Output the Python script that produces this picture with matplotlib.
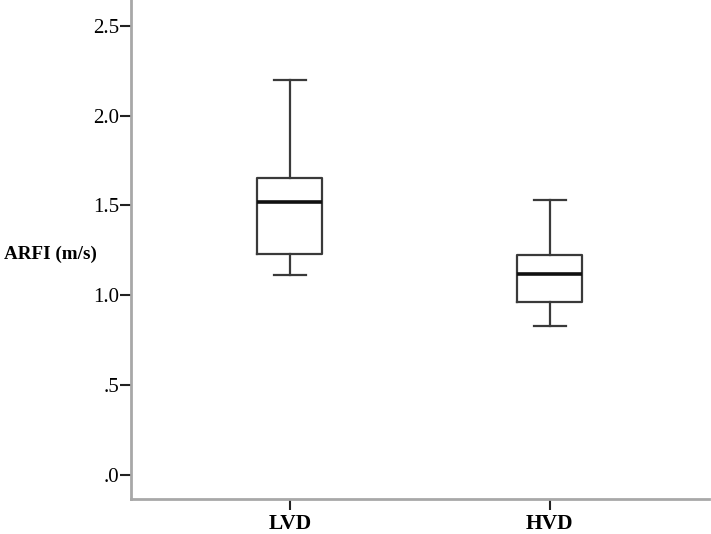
import matplotlib
matplotlib.use("Agg")
import matplotlib.pyplot as plt

categories = ["LVD", "HVD"]
whisker_low = [1.11, 0.83]
q1 = [1.23, 0.96]
median = [1.52, 1.12]
q3 = [1.655, 1.225]
whisker_high = [2.20, 1.53]

ytick_values = [0.0, 0.5, 1.0, 1.5, 2.0, 2.5]
ytick_labels = [".0", ".5", "1.0", "1.5", "2.0", "2.5"]
ylabel = "ARFI (m/s)"

plt.rcParams['font.family'] = ['Liberation Serif', 'DejaVu Serif']

fig = plt.figure(figsize=(7.11, 5.34), dpi=100)
ax = fig.add_axes([0.184, 0.066, 0.813, 0.934])

stats = []
for i, c in enumerate(categories):
    stats.append(dict(label=c, whislo=whisker_low[i], q1=q1[i], med=median[i],
                      q3=q3[i], whishi=whisker_high[i], fliers=[]))

positions = list(range(1, len(categories) + 1))
ax.bxp(stats, positions=positions, widths=0.25, showfliers=False,
       boxprops=dict(color="#3a3a3a", linewidth=1.6),
       whiskerprops=dict(color="#3a3a3a", linewidth=1.6),
       capprops=dict(color="#3a3a3a", linewidth=1.6),
       medianprops=dict(color="#111111", linewidth=2.6),
       capwidths=0.123)

ax.set_xlim(0.388, 2.612)
ax.set_ylim(-0.134, 2.645)
ax.set_yticks(ytick_values)
ax.set_yticklabels(ytick_labels, fontsize=15)
ax.set_xticks(positions)
ax.set_xticklabels(categories, fontsize=15.5, fontweight="bold")

for s in ["top", "right"]:
    ax.spines[s].set_visible(False)
for s in ["left", "bottom"]:
    ax.spines[s].set_color("#a8a8a8")
    ax.spines[s].set_linewidth(2)

ax.tick_params(axis="y", direction="out", length=8, width=1.5, color="#222222", pad=0.5)
ax.tick_params(axis="x", direction="out", length=8, width=1.5, color="#222222", pad=3)

ax.set_ylabel(ylabel, rotation=0, fontsize=13.8, fontweight="bold", labelpad=0)
ax.yaxis.set_label_coords(-0.2195, 0.491)
ax.yaxis.label.set_horizontalalignment("left")
ax.yaxis.label.set_verticalalignment("center")

fig.savefig("out.png", dpi=100)
